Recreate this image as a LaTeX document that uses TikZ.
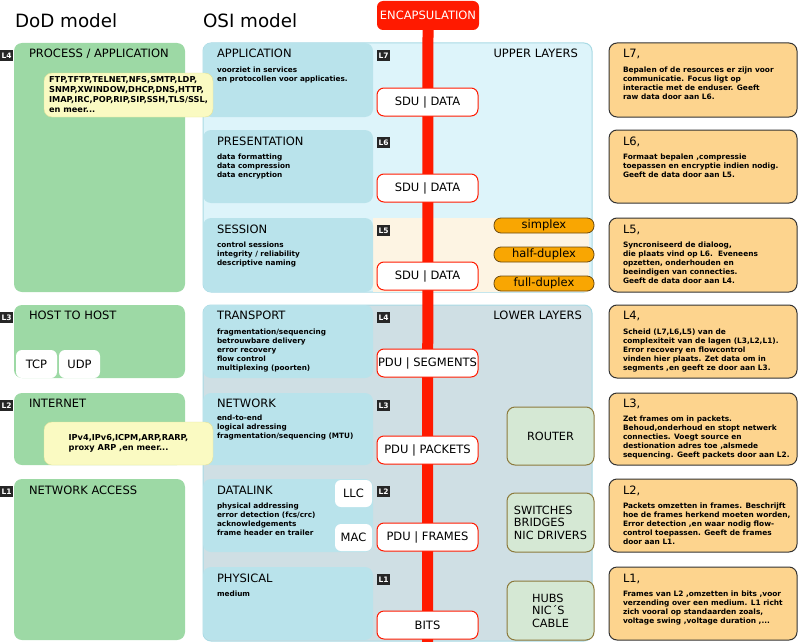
\documentclass[tikz,border=0pt]{standalone}
\usepackage{fontspec}
\setmainfont{DejaVu Sans}
\usetikzlibrary{positioning}

\definecolor{dodgreen}{HTML}{9DD9A5}
\definecolor{osiblue}{HTML}{B9E3EB}
\definecolor{upperbg}{HTML}{DDF4FA}
\definecolor{sessbg}{HTML}{FDF4E3}
\definecolor{lowerbg}{HTML}{CFDFE4}
\definecolor{panelline}{HTML}{A9DAE4}
\definecolor{encred}{HTML}{FF1A00}
\definecolor{noteorange}{HTML}{FDD48E}
\definecolor{pillorange}{HTML}{F9A602}
\definecolor{pillline}{HTML}{6B4A10}
\definecolor{devgreen}{HTML}{D5E8D4}
\definecolor{devline}{HTML}{8C7A3C}
\definecolor{protoyellow}{HTML}{FAFAC2}
\definecolor{protoline}{HTML}{E3E39A}

\begin{document}
\begin{tikzpicture}[
  x=1pt, y=-1pt,
  every node/.style={inner sep=0pt, outer sep=0pt},
  box/.style={anchor=north west, rounded corners=8pt},
  dod/.style={box, fill=dodgreen, minimum width=171},
  osi/.style={box, fill=osiblue, minimum width=170},
  note/.style={box, fill=noteorange, draw=black!80, line width=1pt, minimum width=188},
  panel/.style={box, draw=panelline, line width=1pt, minimum width=389},
  title/.style={anchor=base west, font=\fontsize{18.3}{20}\selectfont},
  head/.style={anchor=base west, font=\fontsize{11.5}{13}\selectfont},
  body/.style={anchor=north west, align=left, font=\bfseries\fontsize{7.3}{9}\selectfont},
  notebody/.style={body, font=\bfseries\fontsize{7.4}{9}\selectfont},
  layer/.style={anchor=north west, fill=black!85, text=white, minimum width=13,
                minimum height=11, font=\bfseries\fontsize{7.5}{8}\selectfont},
  unit/.style={anchor=north, draw=encred, fill=white, line width=1pt, rounded corners=7pt,
               minimum width=101, minimum height=28, font=\fontsize{11.5}{13}\selectfont},
  pill/.style={anchor=north west, fill=pillorange, draw=pillline, line width=0.8pt,
               rounded corners=7pt, minimum width=100, minimum height=15,
               font=\fontsize{11.5}{13}\selectfont},
  device/.style={anchor=north west, fill=devgreen, draw=devline, line width=1pt,
                 rounded corners=8pt, minimum width=87, minimum height=59, align=left,
                 font=\fontsize{11.3}{12.5}\selectfont},
  tag/.style={anchor=north west, fill=white, rounded corners=6pt,
              font=\fontsize{11.5}{13}\selectfont},
  proto/.style={anchor=north west, fill=protoyellow, draw=protoline, rounded corners=8pt,
                minimum width=169, minimum height=44, align=left,
                font=\bfseries\fontsize{8.2}{10}\selectfont},
]
  \useasboundingbox (0,0) rectangle (800,642);

  % titles
  \node[title] (dodtitle) at (15,28) {DoD model};
  \node[title] (osititle) at (203,28) {OSI model};

  % background panels
  \node[panel, fill=upperbg, minimum height=249] (upper) at (203,43) {};
  \node[anchor=north west, fill=sessbg, minimum width=216, minimum height=74] (sessbg) at (373,218) {};
  \node[panel, fill=lowerbg, minimum height=336] (lower) at (203,305) {};
  \node[anchor=base east, font=\fontsize{11.5}{13}\selectfont] (upperlbl)
    at ([shift={(-14,15)}]upper.north east) {UPPER LAYERS};
  \node[anchor=base east, font=\fontsize{11.5}{13}\selectfont] (lowerlbl)
    at ([shift={(-10,14)}]lower.north east) {LOWER LAYERS};

  % DoD model
  \node[dod, minimum height=249] (proc) at (14,43) {};
  \node[dod, minimum height=73] (host) at (14,305) {};
  \node[dod, minimum height=72] (inet) at (14,393) {};
  \node[dod, minimum height=161] (acc) at (14,479) {};
  \node[head] (proch) at ([shift={(15,15)}]proc.north west) {PROCESS / APPLICATION};
  \node[head] (hosth) at ([shift={(15,14)}]host.north west) {HOST TO HOST};
  \node[head] (ineth) at ([shift={(15,14)}]inet.north west) {INTERNET};
  \node[head] (acch) at ([shift={(15,15)}]acc.north west) {NETWORK ACCESS};
  \node[tag, minimum width=41, minimum height=28] (tcp) at (16,350) {TCP};
  \node[tag, minimum width=41, minimum height=28] (udp) at (59,350) {UDP};

  % OSI model
  \node[osi, minimum height=74] (app) at (203,43) {};
  \node[osi, minimum height=73] (pres) at (203,130) {};
  \node[osi, minimum height=74] (sess) at (203,218) {};
  \node[osi, minimum height=73] (trans) at (203,305) {};
  \node[osi, minimum height=72] (net) at (203,393) {};
  \node[osi, minimum height=73] (link) at (203,479) {};
  \node[osi, minimum height=73] (phys) at (203,567) {};

  \node[head] (apph) at ([shift={(14,15)}]app.north west) {APPLICATION};
  \node[body] (appb) at ([shift={(14,24)}]app.north west)
    {voorziet in services\\en protocollen voor applicaties.};
  \node[head] (presh) at ([shift={(14,15)}]pres.north west) {PRESENTATION};
  \node[body] (presb) at ([shift={(14,24)}]pres.north west)
    {data formatting\\data compression\\data encryption};
  \node[head] (sessh) at ([shift={(14,15)}]sess.north west) {SESSION};
  \node[body] (sessb) at ([shift={(14,24)}]sess.north west)
    {control sessions\\integrity / reliability\\descriptive naming};
  \node[head] (transh) at ([shift={(14,14)}]trans.north west) {TRANSPORT};
  \node[body] (transb) at ([shift={(14,24)}]trans.north west)
    {fragmentation/sequencing\\betrouwbare delivery\\error recovery\\flow control\\multiplexing (poorten)};
  \node[head] (neth) at ([shift={(14,14)}]net.north west) {NETWORK};
  \node[body] (netb) at ([shift={(14,22)}]net.north west)
    {end-to-end\\logical adressing\\fragmentation/sequencing (MTU)};
  \node[head] (linkh) at ([shift={(14,15)}]link.north west) {DATALINK};
  \node[body] (linkb) at ([shift={(14,24)}]link.north west)
    {physical addressing\\error detection (fcs/crc)\\acknowledgements\\frame header en trailer};
  \node[head] (physh) at ([shift={(14,15)}]phys.north west) {PHYSICAL};
  \node[body] (physb) at ([shift={(14,24)}]phys.north west) {medium};
  \node[tag, minimum width=37, minimum height=27] (llc) at (335,480) {LLC};
  \node[tag, minimum width=37, minimum height=27] (mac) at (335,524) {MAC};

  % protocol lists
  \node[proto] (protoapp) at (44,73)
    {FTP,TFTP,TELNET,NFS,SMTP,LDP,\\SNMP,XWINDOW,DHCP,DNS,HTTP,\\IMAP,IRC,POP,RIP,SIP,SSH,TLS/SSL,\\en meer...};
  \node[proto, minimum height=43] (protonet) at (44,422)
    {IPv4,IPv6,ICPM,ARP,RARP,\\proxy ARP ,en meer...};

  % layer numbers
  \node[layer] (d4) at (0,50) {L4};
  \node[layer] (d3) at (0,312) {L3};
  \node[layer] (d2) at (0,400) {L2};
  \node[layer] (d1) at (0,486) {L1};
  \node[layer] (o7) at (377,50) {L7};
  \node[layer] (o6) at (377,137) {L6};
  \node[layer] (o5) at (377,225) {L5};
  \node[layer] (o4) at (377,312) {L4};
  \node[layer] (o3) at (377,400) {L3};
  \node[layer] (o2) at (377,486) {L2};
  \node[layer] (o1) at (377,574) {L1};

  % encapsulation
  \node[anchor=north west, fill=encred, text=white, rounded corners=6pt, minimum width=102,
        minimum height=29, font=\fontsize{11.5}{13}\selectfont] (encap) at (377,1) {ENCAPSULATION};
  \coordinate (barend) at (427.5,642);
  \draw[encred, line width=11pt] (encap.south) -- (barend);
  \node[unit] (sdu7) at (427.5,88) {SDU | DATA};
  \node[unit] (sdu6) at (427.5,174) {SDU | DATA};
  \node[unit] (sdu5) at (427.5,262) {SDU | DATA};
  \node[unit] (pdu4) at (427.5,349) {PDU | SEGMENTS};
  \node[unit] (pdu3) at (427.5,436) {PDU | PACKETS};
  \node[unit] (pdu2) at (427.5,523) {PDU | FRAMES};
  \node[unit] (pdu1) at (427.5,611) {BITS};

  % session modes
  \node[pill] (simplex) at (494,218) {simplex};
  \node[pill] (halfdup) at (494,247) {half-duplex};
  \node[pill] (fulldup) at (494,276) {full-duplex};

  % devices
  \node[device, minimum height=58] (router) at (507,407) {ROUTER};
  \node[device] (switch) at (507,493) {SWITCHES\\BRIDGES\\NIC DRIVERS};
  \node[device] (hubs) at (507,581) {HUBS\\NIC´S\\CABLE};

  % notes
  \node[note, minimum height=74] (n7) at (609,43) {};
  \node[note, minimum height=73] (n6) at (609,130) {};
  \node[note, minimum height=74] (n5) at (609,218) {};
  \node[note, minimum height=73] (n4) at (609,305) {};
  \node[note, minimum height=72] (n3) at (609,393) {};
  \node[note, minimum height=73] (n2) at (609,479) {};
  \node[note, minimum height=73] (n1) at (609,567) {};

  \node[head] (n7h) at ([shift={(14,15)}]n7.north west) {L7,};
  \node[notebody] (n7b) at ([shift={(14,24)}]n7.north west)
    {Bepalen of de resources er zijn voor\\communicatie. Focus ligt op\\interactie met de enduser. Geeft\\raw data door aan L6.};
  \node[head] (n6h) at ([shift={(14,15)}]n6.north west) {L6,};
  \node[notebody] (n6b) at ([shift={(14,24)}]n6.north west)
    {Formaat bepalen ,compressie\\toepassen en encryptie indien nodig.\\Geeft de data door aan L5.};
  \node[head] (n5h) at ([shift={(14,15)}]n5.north west) {L5,};
  \node[notebody] (n5b) at ([shift={(14,24)}]n5.north west)
    {Syncroniseerd de dialoog,\\die plaats vind op L6.\ \ Eveneens\\opzetten, onderhouden en\\beeindigen van connecties.\\Geeft de data door aan L4.};
  \node[head] (n4h) at ([shift={(14,14)}]n4.north west) {L4,};
  \node[notebody] (n4b) at ([shift={(14,24)}]n4.north west)
    {Scheid (L7,L6,L5) van de\\complexiteit van de lagen (L3,L2,L1).\\Error recovery en flowcontrol\\vinden hier plaats. Zet data om in\\segments ,en geeft ze door aan L3.};
  \node[head] (n3h) at ([shift={(14,14)}]n3.north west) {L3,};
  \node[notebody] (n3b) at ([shift={(14,23)}]n3.north west)
    {Zet frames om in packets.\\Behoud,onderhoud en stopt netwerk\\connecties. Voegt source en\\destionation adres toe ,alsmede\\sequencing. Geeft packets door aan L2.};
  \node[head] (n2h) at ([shift={(14,15)}]n2.north west) {L2,};
  \node[notebody] (n2b) at ([shift={(14,24)}]n2.north west)
    {Packets omzetten in frames. Beschrijft\\hoe de frames herkend moeten worden,\\Error detection ,en waar nodig flow-\\control toepassen. Geeft de frames\\door aan L1.};
  \node[head] (n1h) at ([shift={(14,15)}]n1.north west) {L1,};
  \node[notebody] (n1b) at ([shift={(14,24)}]n1.north west)
    {Frames van L2 ,omzetten in bits ,voor\\verzending over een medium. L1 richt\\zich vooral op standaarden zoals,\\voltage swing ,voltage duration ,...};
\end{tikzpicture}
\end{document}
